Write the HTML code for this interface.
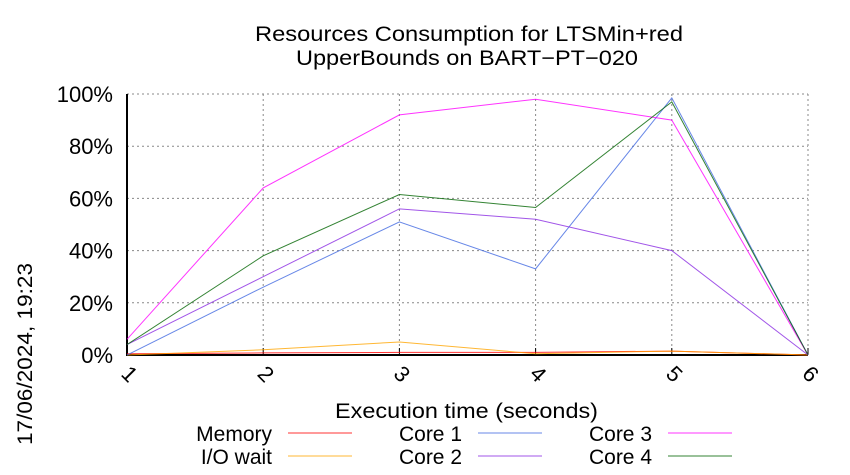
<!DOCTYPE html>
<html><head><meta charset="utf-8"><style>body{margin:0;background:#fff}svg{display:block;font-family:"Liberation Sans",sans-serif}</style></head>
<body>
<svg id="c" width="850" height="475">
<text x="255" y="41" font-size="21" textLength="428" lengthAdjust="spacingAndGlyphs">Resources Consumption for LTSMin+red</text>
<text x="296" y="65" font-size="21" textLength="342" lengthAdjust="spacingAndGlyphs">UpperBounds on BART−PT−020</text>
<text x="335" y="418" font-size="21" textLength="263" lengthAdjust="spacingAndGlyphs">Execution time (seconds)</text>
<text transform="translate(32,445) rotate(-90)" font-size="21" textLength="182" lengthAdjust="spacingAndGlyphs">17/06/2024, 19:23</text>
<g id="grid"></g><g id="series"></g><g id="legend"></g>
</svg>
<script>
const xVals=[1,2,3,4,5,6];
const yTicks=[0,20,40,60,80,100];
const memory=[0.5,0.8,1,1,1.5,0];
const ioWait=[0,2,5,0.5,1.5,0];
const core1=[0,26,51,33,98.5,0];
const core2=[4,30,56,52,40,0];
const core3=[6,64,92,98,90,0];
const core4=[4,38,61.5,56.5,97,0];
const NS="http://www.w3.org/2000/svg";
const L=127,R=808,T=94,B=355;
const sx=v=>L+(v-1)/(6-1)*(R-L);
const sy=v=>B-v/100*(B-T);
const mk=(t,a,p)=>{const e=document.createElementNS(NS,t);for(const k in a)e.setAttribute(k,a[k]);p.appendChild(e);return e;};
const g=document.getElementById('grid');
yTicks.forEach(v=>{
 if(v>0){const l=mk('line',{x1:L,x2:R,y1:sy(v),y2:sy(v),stroke:'#888','stroke-dasharray':'2,3','stroke-width':1},g);
 
 }
 const t=mk('text',{x:L-14,y:sy(v)+8,'text-anchor':'end','font-size':22},g);t.textContent=v+'%';
 
 
});
xVals.forEach(v=>{
 if(v>1){const l=mk('line',{x1:sx(v),x2:sx(v),y1:T,y2:B,stroke:'#888','stroke-dasharray':'2,3','stroke-width':1},g);
 
 }
 const tk=mk('line',{x1:sx(v),x2:sx(v),y1:B,y2:B-7,stroke:'#000'},g);
 
 
 const t=mk('text',{x:0,y:0,'font-size':22,transform:`translate(${sx(v)-7},${B+20}) rotate(45)`},g);t.textContent=v;
 
 
});
const ax=mk('path',{d:`M${L},${T}V${B}H${R}`,fill:'none',stroke:'#000','stroke-width':2},g);


const series=[["Memory",memory,"#ff0000"],["I/O wait",ioWait,"#ffa500"],["Core 1",core1,"#4169e1"],["Core 2",core2,"#8a2be2"],["Core 3",core3,"#ff00ff"],["Core 4",core4,"#006400"]];
const sg=document.getElementById('series'),lg=document.getElementById('legend');
series.forEach((s,i)=>{
 const p=mk('polyline',{points:s[1].map((v,j)=>sx(xVals[j])+','+sy(v)).join(' '),fill:'none',stroke:s[2],'stroke-width':1,'stroke-opacity':0.8},sg);
 
 
 const col=Math.floor(i/2),row=i%2;
 const lx=272+col*190,ly=441+row*23;
 const t=mk('text',{x:lx,y:ly,'text-anchor':'end','font-size':21},lg);t.textContent=s[0];
 
 
 const ln=mk('line',{x1:lx+16,x2:lx+80,y1:ly-8,y2:ly-8,stroke:s[2],'stroke-width':1,'stroke-opacity':0.8},lg);
 
 
});
</script>
</body></html>
